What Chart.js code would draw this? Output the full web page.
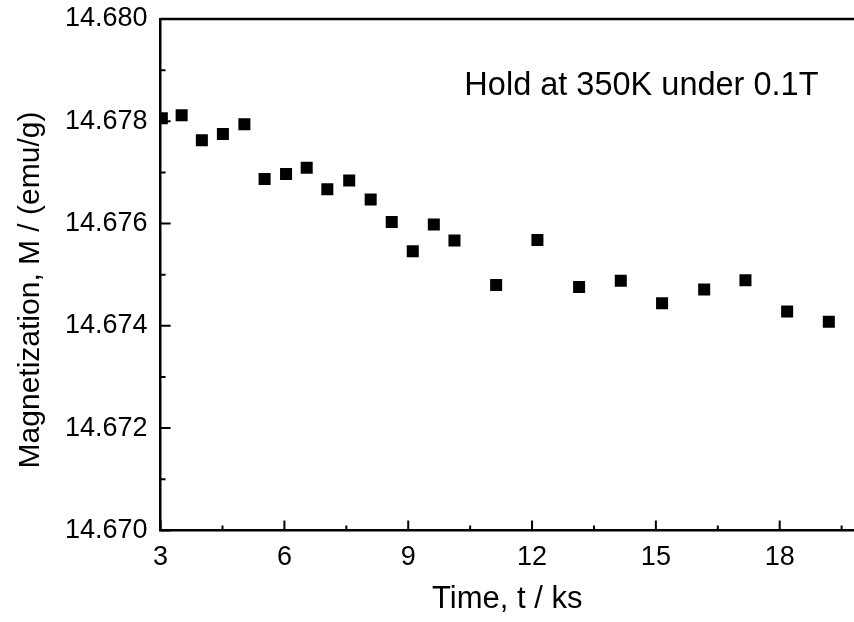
<!DOCTYPE html>
<html>
<head>
<meta charset="utf-8">
<script src="https://cdn.jsdelivr.net/npm/chart.js@4"></script>
<style>
  html, body { margin: 0; padding: 0; background: #fff; overflow: hidden; }
  #grafico { display: block; }
</style>
</head>
<body>
<canvas id="grafico" width="854" height="622"></canvas>
<script>
// time (ks) and magnetization (emu/g) while holding at 350K under 0.1T
const tiempos = [3.03, 3.51, 4.00, 4.51, 5.03, 5.52, 6.04, 6.54, 7.04, 7.57, 8.09, 8.60,
  9.11, 9.62, 10.12, 11.13, 12.13, 13.14, 14.15, 15.15, 16.17, 17.17, 18.18, 19.19]
const magnetizacion = [14.67806, 14.67812, 14.67763, 14.67775, 14.67794, 14.67687, 14.67697,
  14.67709, 14.67667, 14.67684, 14.67647, 14.67603, 14.67546, 14.67598, 14.67567, 14.67480,
  14.67568, 14.67476, 14.67488, 14.67444, 14.67471, 14.67489, 14.67428, 14.67408]

const xTicks = [3, 6, 9, 12, 15, 18]
const yTicks = [14.670, 14.672, 14.674, 14.676, 14.678, 14.680]

const nota = "Hold at 350K under 0.1T"
const tituloY = "Magnetization, M / (emu/g)"
const fuente = "'Liberation Sans', Arial, sans-serif"

let puntos = []
for (let i = 0; i < tiempos.length; i++) {
  puntos.push({ x: tiempos[i], y: magnetizacion[i] })
}

// inward ticks (major + minor), top frame line, y title and the text label
const marcos = {
  id: 'marcos',
  afterDraw(chart) {
    const ctx = chart.ctx
    const area = chart.chartArea
    const sx = chart.scales.x
    const sy = chart.scales.y
    ctx.save()
    ctx.strokeStyle = '#000'
    ctx.lineWidth = 2.5
    ctx.beginPath()
    ctx.moveTo(area.left, area.top)
    ctx.lineTo(area.right, area.top)
    ctx.stroke()

    ctx.lineWidth = 2
    ctx.beginPath()
    for (let v = 3; v <= 19.6; v += 1.5) {
      const px = sx.getPixelForValue(v)
      const mayor = xTicks.includes(Math.round(v * 10) / 10)
      ctx.moveTo(px, area.bottom)
      ctx.lineTo(px, area.bottom - (mayor ? 10 : 5))
    }
    for (let k = 0; k <= 10; k++) {
      const py = sy.getPixelForValue(14.670 + k * 0.001)
      ctx.moveTo(area.left, py)
      ctx.lineTo(area.left + (k % 2 == 0 ? 10 : 5), py)
    }
    ctx.stroke()

    ctx.fillStyle = '#000'
    ctx.font = "32.5px " + fuente
    ctx.textBaseline = 'alphabetic'
    ctx.fillText(nota, sx.getPixelForValue(10.36), sy.getPixelForValue(14.67851))

    // rotated y title, sitting a bit below the middle of the axis
    ctx.translate(31, 290)
    ctx.rotate(-Math.PI / 2)
    ctx.font = "30px " + fuente
    ctx.textAlign = 'center'
    ctx.textBaseline = 'middle'
    ctx.fillText(tituloY, 0, 0)
    ctx.restore()
  }
}

const data = {
  datasets: [
    {
      label: 'M',
      data: puntos,
      showLine: false,
      pointStyle: 'rect',
      pointRadius: 8.5,
      pointBorderWidth: 0,
      backgroundColor: '#000',
      borderColor: '#000'
    }
  ]
}

const config = {
  type: 'scatter',
  data: data,
  options: {
    responsive: false,
    animation: false,
    layout: {
      autoPadding: false,
      padding: { top: 19, right: 0, left: 52, bottom: 4 }
    },
    plugins: {
      legend: { display: false },
      tooltip: { enabled: false }
    },
    scales: {
      x: {
        type: 'linear',
        min: 3,
        max: 19.8,
        grid: { display: false, drawTicks: false },
        border: { display: true, color: '#000', width: 2.5 },
        ticks: {
          stepSize: 3,
          includeBounds: false,
          padding: 11,
          color: '#000',
          font: { family: fuente, size: 27 },
          maxRotation: 0
        },
        afterBuildTicks(scale) {
          scale.ticks = xTicks.map(v => ({ value: v }))
        },
        afterFit(scale) {
          scale.paddingLeft = 0
          scale.paddingRight = 0
        },
        title: {
          display: true,
          text: 'Time, t / ks',
          color: '#000',
          font: { family: fuente, size: 31 },
          padding: { top: -4, bottom: 0 }
        }
      },
      y: {
        type: 'linear',
        min: 14.670,
        max: 14.680,
        grid: { display: false, drawTicks: false },
        border: { display: true, color: '#000', width: 2.5 },
        ticks: {
          padding: 13,
          color: '#000',
          font: { family: fuente, size: 27 },
          callback: (v) => Number(v).toFixed(3)
        },
        afterBuildTicks(scale) {
          scale.ticks = yTicks.map(v => ({ value: v }))
        },
        afterFit(scale) {
          scale.paddingTop = 0
          scale.paddingBottom = 0
        }
      }
    }
  },
  plugins: [marcos]
}

const miGrafico = new Chart(document.getElementById('grafico'), config)
</script>
</body>
</html>
